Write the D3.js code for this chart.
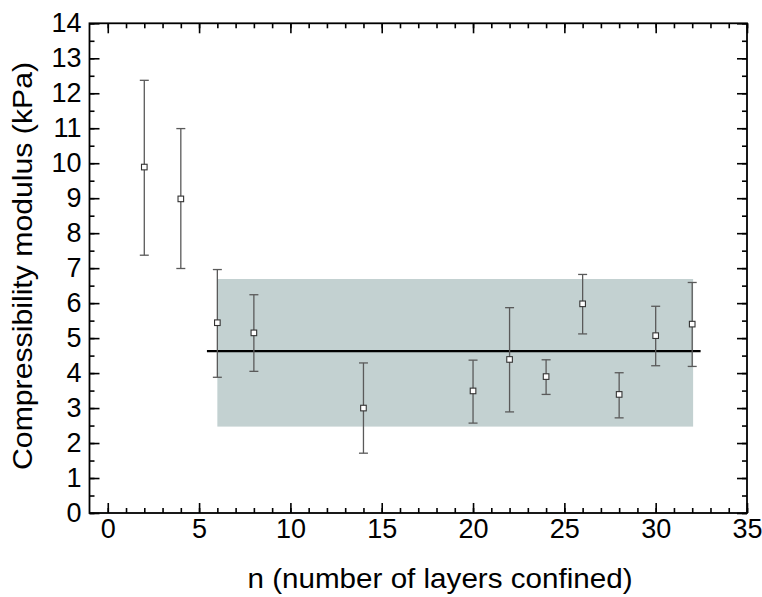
<!DOCTYPE html>
<html>
<head>
<meta charset="utf-8">
<script src="https://cdn.jsdelivr.net/npm/d3@7"></script>
<style>
  body { margin: 0; background: #fff; }
  svg text { font-family: "Liberation Sans", Arial, sans-serif; fill: #000; }
</style>
</head>
<body>
<div id="chart"></div>
<script>
// data
const nLayers  = [2, 4, 6, 8, 14, 20, 22, 24, 26, 28, 30, 32];
const modulus  = [9.89, 8.98, 5.44, 5.15, 3.0, 3.49, 4.39, 3.9, 5.98, 3.39, 5.07, 5.4];
const errLow   = [7.37, 6.99, 3.88, 4.05, 1.71, 2.57, 2.89, 3.39, 5.12, 2.72, 4.21, 4.19];
const errHigh  = [12.37, 10.99, 6.96, 6.24, 4.29, 4.37, 5.87, 4.38, 6.82, 4.01, 5.91, 6.59];
const meanValue = 4.63;
const meanSpan  = [5.43, 32.46];
const bandX     = [6, 32.05];
const bandY     = [2.47, 6.69];
const xTicks    = [0, 5, 10, 15, 20, 25, 30, 35];
const yTicks    = [0, 1, 2, 3, 4, 5, 6, 7, 8, 9, 10, 11, 12, 13, 14];

const W = 762, H = 597;
const margin = {left: 89.5, right: 15, top: 23.3, bottom: 84};

let svg = d3.select("#chart").append("svg")
    .attr("width", W)
    .attr("height", H);

let x = d3.scaleLinear().domain([-1, 35]).range([margin.left, W - margin.right]);
let y = d3.scaleLinear().domain([0, 14]).range([H - margin.bottom, margin.top]);

let rows = nLayers.map((n, i) => ({n: n, v: modulus[i], lo: errLow[i], hi: errHigh[i]}));

// shaded band
svg.append("rect")
    .attr("x", x(bandX[0]))
    .attr("y", y(bandY[1]))
    .attr("width", x(bandX[1]) - x(bandX[0]))
    .attr("height", y(bandY[0]) - y(bandY[1]))
    .attr("fill", "#c3d1d1");

// mean line
svg.append("line")
    .attr("x1", x(meanSpan[0])).attr("x2", x(meanSpan[1]))
    .attr("y1", y(meanValue)).attr("y2", y(meanValue))
    .attr("stroke", "#000")
    .attr("stroke-width", 2.2);

// error bars
let bars = svg.append("g").attr("stroke", "#5a5a5a").attr("stroke-width", 1.3);
rows.forEach(d => {
    bars.append("line")
        .attr("x1", x(d.n)).attr("x2", x(d.n))
        .attr("y1", y(d.lo)).attr("y2", y(d.hi));
    [d.lo, d.hi].forEach(v => {
        bars.append("line")
            .attr("x1", x(d.n) - 4.5).attr("x2", x(d.n) + 4.5)
            .attr("y1", y(v)).attr("y2", y(v));
    });
});

// markers
svg.append("g").selectAll("rect")
    .data(rows)
    .enter().append("rect")
    .attr("x", d => x(d.n) - 2.8)
    .attr("y", d => y(d.v) - 2.8)
    .attr("width", 5.6)
    .attr("height", 5.6)
    .attr("fill", "#fff")
    .attr("stroke", "#333")
    .attr("stroke-width", 1.1);

// axes: ticks pointing inward, mirrored on top and right
let xMinor = d3.range(0, 36, 1);
let yMinor = d3.range(0, 14.01, 0.5);

function frameAxis(axisFn, scale, minor, major, translate, pad) {
    let g = svg.append("g").attr("transform", translate);
    g.call(axisFn(scale).tickValues(minor).tickSize(-5).tickFormat(""));
    let gm = svg.append("g").attr("transform", translate);
    gm.call(axisFn(scale).tickValues(major).tickSize(-10).tickPadding(pad || 0)
        .tickFormat(pad ? d3.format("d") : ""));
    [g, gm].forEach(s => {
        s.select(".domain").remove();
        s.selectAll("line").attr("stroke", "#000").attr("stroke-width", 1.6);
    });
    gm.selectAll("text").attr("font-size", 27).attr("font-family", "Liberation Sans, Arial, sans-serif");
    return gm;
}

frameAxis(d3.axisBottom, x, xMinor, xTicks, `translate(0,${y(0)})`, 6);
frameAxis(d3.axisTop, x, xMinor, xTicks, `translate(0,${y(14)})`, 0);
frameAxis(d3.axisLeft, y, yMinor, yTicks, `translate(${x(-1)},0)`, 8);
frameAxis(d3.axisRight, y, yMinor, yTicks, `translate(${x(35)},0)`, 0);

// frame
svg.append("rect")
    .attr("x", x(-1)).attr("y", y(14))
    .attr("width", x(35) - x(-1))
    .attr("height", y(0) - y(14))
    .attr("fill", "none")
    .attr("stroke", "#000")
    .attr("stroke-width", 1.8);

// axis titles
svg.append("text")
    .attr("x", 440)
    .attr("y", 588)
    .attr("text-anchor", "middle")
    .attr("font-size", 28)
    .attr("textLength", 385)
    .attr("lengthAdjust", "spacingAndGlyphs")
    .text("n (number of layers confined)");

svg.append("text")
    .attr("transform", `translate(32,266) rotate(-90)`)
    .attr("text-anchor", "middle")
    .attr("font-size", 28)
    .attr("textLength", 408)
    .attr("lengthAdjust", "spacingAndGlyphs")
    .text("Compressibility modulus (kPa)");
</script>
</body>
</html>
